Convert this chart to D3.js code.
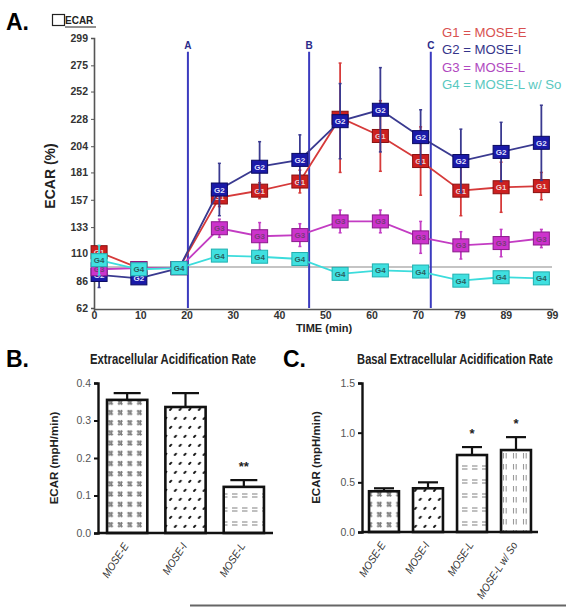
<!DOCTYPE html>
<html><head><meta charset="utf-8">
<script src="https://cdn.jsdelivr.net/npm/d3@7"></script>
<style>
body{margin:0;background:#fff;}
svg{display:block;}
text{font-family:"Liberation Sans",Arial,sans-serif;}
</style></head>
<body>
<svg id="c" width="566" height="607"></svg>
<script>
// ---------- Panel A data ----------
const times = [1.1, 9.7, 18.4, 27.1, 35.8, 44.5, 53.2, 61.9, 70.6, 79.3, 88.0, 96.7];
const groupNames = ["G1", "G2", "G3", "G4"];
const legendLabels = ["G1 = MOSE-E", "G2 = MOSE-I", "G3 = MOSE-L", "G4 = MOSE-L w/ So"];
const g1Values = [111, 97, 97, 159, 165, 173, 229, 213, 191, 165, 168, 169];
const g1Errors = [4, 3, 2, 8, 7, 10, 48, 31, 30, 22, 22, 12];
const g2Values = [91, 88, 97, 166, 186, 192, 226, 236, 212, 191, 199, 207];
const g2Errors = [11, 3, 2, 23, 22, 22, 33, 37, 24, 28, 26, 33];
const g3Values = [96, 97, 97, 132, 125, 126, 138, 138, 124, 117, 119, 123];
const g3Errors = [5, 3, 2, 8, 12, 10, 10, 10, 14, 12, 12, 8];
const g4Values = [104, 96, 97, 108, 107, 105, 92, 95, 94, 86, 89, 88];
const g4Errors = [13, 4, 2, 5, 4, 5, 5, 5, 5, 5, 5, 5];
const yTicksA = [62, 86, 110, 133, 157, 181, 204, 228, 252, 275, 299];
const xTicksA = [0, 10, 20, 30, 40, 50, 60, 70, 79, 89, 99];
const injectionTimes = [20.3, 46.5, 72.8];
const injectionLabels = ["A", "B", "C"];
const baselineValue = 98;

// ---------- Panel B data ----------
const catsB = ["MOSE-E", "MOSE-I", "MOSE-L"];
const valuesB = [0.355, 0.336, 0.123];
const errorsB = [0.018, 0.037, 0.018];
const sigB = ["", "", "**"];
const yTicksB = [0.0, 0.1, 0.2, 0.3, 0.4];

// ---------- Panel C data ----------
const catsC = ["MOSE-E", "MOSE-I", "MOSE-L", "MOSE-L w/ So"];
const valuesC = [0.41, 0.44, 0.775, 0.825];
const errorsC = [0.03, 0.06, 0.08, 0.13];
const sigC = ["", "", "*", "*"];
const yTicksC = [0.0, 0.5, 1.0, 1.5];

const svg = d3.select("#c");
const defs = svg.append("defs");

// ----- patterns -----
function pat(id, w, h, draw){
  const p = defs.append("pattern").attr("id", id).attr("patternUnits","userSpaceOnUse")
    .attr("width", w).attr("height", h);
  p.append("rect").attr("width", w).attr("height", h).attr("fill", "#fff");
  draw(p);
}
pat("pE", 9.6, 10.2, p => {
  const g = p.append("g").attr("stroke", "#7a7a7a").attr("stroke-width", 1.1);
  [[2.5,3,7.5,3],[2.5,6,7.5,6],[3.8,1.8,3.8,7.2],[6.2,1.8,6.2,7.2],[3,2.5,7,6.5]].forEach(l=>
    g.append("line").attr("x1",l[0]).attr("y1",l[1]).attr("x2",l[2]).attr("y2",l[3]));
});
pat("pI", 9.6, 18, p => {
  const g = p.append("g").attr("stroke", "#111").attr("stroke-width", 1.9).attr("stroke-linecap","round");
  g.append("line").attr("x1",2).attr("y1",5).attr("x2",3.3).attr("y2",3.7);
  g.append("line").attr("x1",6.8).attr("y1",14).attr("x2",8.1).attr("y2",12.7);
});
pat("pL", 10, 14, p => {
  const g = p.append("g").attr("stroke", "#8a8a8a").attr("stroke-width", 1.1);
  g.append("line").attr("x1",2).attr("y1",4).attr("x2",7.5).attr("y2",4);
  g.append("line").attr("x1",2).attr("y1",7).attr("x2",7.5).attr("y2",7);
});
pat("pS", 10, 11, p => {
  const g = p.append("g").attr("stroke", "#9a9a9a").attr("stroke-width", 1.1);
  g.append("line").attr("x1",3.5).attr("y1",2).attr("x2",3.5).attr("y2",7.5);
  g.append("line").attr("x1",6.2).attr("y1",2).attr("x2",6.2).attr("y2",7.5);
});

// ================= Panel A =================
const xA = d3.scaleLinear().domain([0, 99]).range([94, 552]);
const yA = d3.scaleLinear().domain([62, 299]).range([308, 38]);

svg.append("text").attr("x", 6).attr("y", 30).attr("font-size", 23).attr("font-weight", "bold").text("A.");
svg.append("rect").attr("x", 52.5).attr("y", 14.5).attr("width", 12).attr("height", 11)
  .attr("fill", "#fff").attr("stroke", "#222").attr("stroke-width", 1.2);
svg.append("text").attr("x", 65).attr("y", 24).attr("font-size", 10).attr("font-weight", "bold")
  .attr("fill", "#222").text("ECAR");
svg.append("line").attr("x1", 65).attr("x2", 96).attr("y1", 27).attr("y2", 27).attr("stroke", "#222").attr("stroke-width", 1);

// baseline
svg.append("line").attr("x1", xA(0)).attr("x2", xA(99)).attr("y1", yA(baselineValue)).attr("y2", yA(baselineValue))
  .attr("stroke", "#b0b0b0").attr("stroke-width", 1.3);

// axes
const yAxA = svg.append("g").attr("transform", `translate(${xA(0)},0)`)
  .call(d3.axisLeft(yA).tickValues(yTicksA).tickSize(3).tickFormat(d3.format("d")));
const xAxA = svg.append("g").attr("transform", `translate(0,${yA(62)+1})`)
  .call(d3.axisBottom(xA).tickValues(xTicksA).tickSize(2).tickFormat(d3.format("d")));
[yAxA, xAxA].forEach(a => {
  a.select(".domain").attr("stroke", "#555").attr("stroke-width", 1.6);
  a.selectAll(".tick line").attr("stroke", "#555");
  a.selectAll("text").attr("font-size", 10.5).attr("font-weight", "bold").attr("fill", "#333")
    .attr("font-family", "Liberation Sans, Arial, sans-serif");
});
xAxA.selectAll("text").attr("y", 3).attr("dy", "0.7em");

svg.append("text").attr("transform", `translate(55,176) rotate(-90)`).attr("text-anchor", "middle")
  .attr("font-size", 14).attr("font-weight", "bold").attr("fill", "#222").text("ECAR (%)");
svg.append("text").attr("x", 324).attr("y", 332).attr("text-anchor", "middle")
  .attr("font-size", 11).attr("font-weight", "bold").attr("fill", "#222").text("TIME (min)");

// injection lines
injectionTimes.forEach((t, i) => {
  svg.append("line").attr("x1", xA(t)).attr("x2", xA(t)).attr("y1", yA(287)).attr("y2", yA(62))
    .attr("stroke", "#3b3bbf").attr("stroke-width", 2);
  svg.append("text").attr("x", xA(t)).attr("y", yA(287) - 3).attr("text-anchor", "middle")
    .attr("font-size", 10).attr("font-weight", "bold").attr("fill", "#2a2a8a").text(injectionLabels[i]);
});

const series = [
  {name: "G1", v: g1Values, e: g1Errors, line: "#d63a3a", fill: "#cc2020", stroke: "#8a1010", tc: "#f0d0d0"},
  {name: "G2", v: g2Values, e: g2Errors, line: "#3a3a90", fill: "#1a1aa8", stroke: "#0a0a60", tc: "#e0e0ff"},
  {name: "G3", v: g3Values, e: g3Errors, line: "#c33cc3", fill: "#cc33cc", stroke: "#8a1a8a", tc: "#7a3a7a"},
  {name: "G4", v: g4Values, e: g4Errors, line: "#3cdcdc", fill: "#40e0e0", stroke: "#20b0b0", tc: "#2a6060"}
];
const lineGen = d3.line().x((d, i) => xA(times[i])).y(d => yA(d));
series.forEach(s => {
  const g = svg.append("g");
  s.v.forEach((v, i) => {
    const x = xA(times[i]);
    g.append("line").attr("x1", x).attr("x2", x).attr("y1", yA(v + s.e[i])).attr("y2", yA(v - s.e[i]))
      .attr("stroke", s.line).attr("stroke-width", 1.8);
    [v + s.e[i], v - s.e[i]].forEach(c => g.append("line").attr("x1", x - 1.5).attr("x2", x + 1.5)
      .attr("y1", yA(c)).attr("y2", yA(c)).attr("stroke", s.line).attr("stroke-width", 1.5));
  });
  g.append("path").datum(s.v).attr("d", lineGen).attr("fill", "none").attr("stroke", s.line).attr("stroke-width", 1.8);
  s.v.forEach((v, i) => {
    const x = xA(times[i]), y = yA(v);
    g.append("rect").attr("x", x - 8).attr("y", y - 6.5).attr("width", 16).attr("height", 13)
      .attr("fill", s.fill).attr("stroke", s.stroke).attr("stroke-width", 1);
    g.append("text").attr("x", x).attr("y", y + 3).attr("text-anchor", "middle").attr("font-size", 8)
      .attr("font-weight", "bold").attr("fill", s.tc).text(s.name);
  });
});

// legend
const legColors = ["#d85050", "#34348a", "#b048c0", "#58c8c0"];
legendLabels.forEach((l, i) => {
  svg.append("text").attr("x", 442).attr("y", 37 + i * 17.3).attr("font-size", 13.2)
    .attr("font-family", "Lato, 'Open Sans', sans-serif").attr("fill", legColors[i]).text(l);
});

// ================= Bar panels =================
function barPanel(o){
  const x = d3.scaleBand().domain(o.cats).range(o.xr).paddingInner(o.pin).paddingOuter(o.pin / 2);
  const y = d3.scaleLinear().domain(o.yd).range(o.yr);
  const g = svg.append("g");
  g.append("text").attr("x", o.letterX).attr("y", 367).attr("font-size", 23).attr("font-weight", "bold").text(o.letter);
  const t = g.append("text").attr("text-anchor", "middle")
    .attr("font-size", 14).attr("font-weight", "bold").attr("fill", "#222").text(o.title);
  const natural = t.node().getComputedTextLength();
  t.attr("transform", `translate(${o.titleX},364) scale(${o.titleW / natural},1)`);
  o.vals.forEach((v, i) => {
    const bx = x(o.cats[i]), bw = x.bandwidth(), cx = bx + bw / 2;
    g.append("line").attr("x1", cx).attr("x2", cx).attr("y1", y(v)).attr("y2", y(v + o.errs[i]))
      .attr("stroke", "#111").attr("stroke-width", 2.2);
    g.append("line").attr("x1", cx - o.cap).attr("x2", cx + o.cap).attr("y1", y(v + o.errs[i])).attr("y2", y(v + o.errs[i]))
      .attr("stroke", "#111").attr("stroke-width", 2.2);
    g.append("rect").attr("x", bx).attr("y", y(v)).attr("width", bw).attr("height", y(0) - y(v))
      .attr("fill", `url(#${o.pats[i]})`).attr("stroke", "#111").attr("stroke-width", 2.6);
    if (o.sig[i]) g.append("text").attr("x", cx).attr("y", y(v + o.errs[i]) - 9).attr("text-anchor", "middle")
      .attr("font-size", 13).attr("font-weight", "bold").attr("fill", "#222").text(o.sig[i]);
    g.append("text")
      .attr("transform", `translate(${cx + 2},${y(0) + 13}) rotate(-57) scale(0.9,1)`).attr("text-anchor", "end")
      .attr("font-size", 11).attr("font-style", "italic").attr("fill", "#333").text(o.cats[i]);
  });
  const ya = g.append("g").attr("transform", `translate(${o.xr[0]},0)`)
    .call(d3.axisLeft(y).tickValues(o.ticks).tickSize(4).tickFormat(d3.format(".1f")));
  ya.select(".domain").attr("stroke", "#111").attr("stroke-width", 2.4);
  ya.selectAll(".tick line").attr("stroke", "#111").attr("stroke-width", 2);
  ya.selectAll("text").attr("font-size", 10.5).attr("fill", "#555")
    .attr("font-family", "Liberation Sans, Arial, sans-serif");
  g.append("line").attr("x1", o.xr[0]).attr("x2", o.xr[1]).attr("y1", y(0)).attr("y2", y(0))
    .attr("stroke", "#111").attr("stroke-width", 2.6);
  g.append("text").attr("transform", `translate(${o.ytX},${(o.yr[0] + o.yr[1]) / 2}) rotate(-90)`)
    .attr("text-anchor", "middle").attr("font-size", 11.5).attr("font-weight", "bold").attr("fill", "#222")
    .text("ECAR (mpH/min)");
}

barPanel({cats: catsB, vals: valuesB, errs: errorsB, sig: sigB, ticks: yTicksB,
  xr: [98, 273], yr: [533, 383], yd: [0, 0.4], pin: 0.31, cap: 13.5,
  pats: ["pE", "pI", "pL"], letter: "B.", letterX: 6, title: "Extracellular Acidification Rate",
  titleX: 173, titleW: 166, ytX: 58});
barPanel({cats: catsC, vals: valuesC, errs: errorsC, sig: sigC, ticks: yTicksC,
  xr: [362, 538], yr: [532, 383], yd: [0, 1.5], pin: 0.32, cap: 10,
  pats: ["pE", "pI", "pL", "pS"], letter: "C.", letterX: 283, title: "Basal Extracellular Acidification Rate",
  titleX: 455, titleW: 196, ytX: 320});

// bottom rule
svg.append("line").attr("x1", 190).attr("x2", 566).attr("y1", 605.5).attr("y2", 605.5)
  .attr("stroke", "#666").attr("stroke-width", 2);
</script>
</body></html>
